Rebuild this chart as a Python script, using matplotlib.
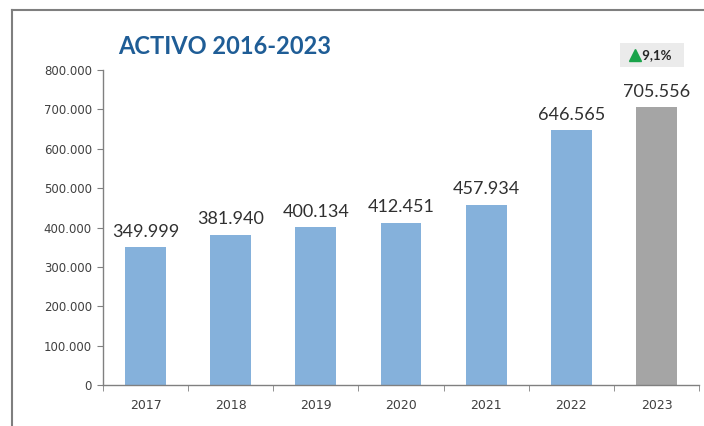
import matplotlib.pyplot as plt
from matplotlib.lines import Line2D

years = ['2017', '2018', '2019', '2020', '2021', '2022', '2023']
activo = [349999, 381940, 400134, 412451, 457934, 646565, 705556]
value_labels = ['349.999', '381.940', '400.134', '412.451', '457.934', '646.565', '705.556']
yticks = [0, 100000, 200000, 300000, 400000, 500000, 600000, 700000, 800000]
ytick_labels = ['0', '100.000', '200.000', '300.000', '400.000', '500.000', '600.000', '700.000', '800.000']
growth = '9,1%'

colors = ['#85b1db'] * 6 + ['#a5a5a5']

fig = plt.figure(figsize=(7.04, 4.26), dpi=100)
ax = fig.add_axes([0.1463, 0.0962, 0.8467, 0.7395])

x = list(range(len(years)))
ax.bar(x, activo, width=0.48, color=colors, zorder=2)
ax.set_xlim(-0.5, len(years) - 0.5)
ax.set_ylim(0, 800000)

for xi, v, lab in zip(x, activo, value_labels):
    ax.text(xi, v + 19000, lab, ha='center', va='bottom', fontsize=13,
            family='Lato', color='#303030')

ax.set_yticks(yticks)
ax.set_yticklabels(ytick_labels, fontsize=8.5, color='#404040')
ax.set_xticks(x)
ax.set_xticklabels(years, fontsize=9, color='#404040')
ax.tick_params(axis='x', length=0, pad=10)
ax.tick_params(axis='y', length=4, color='#808080', pad=4)
# minor ticks between the categories
ax.set_xticks([i + 0.5 for i in range(-1, len(years))], minor=True)
ax.tick_params(axis='x', which='minor', length=4, color='#808080')

for s in ['top', 'right']:
    ax.spines[s].set_visible(False)
for s in ['left', 'bottom']:
    ax.spines[s].set_color('#808080')
    ax.spines[s].set_linewidth(1)

fig.text(118 / 704, 1 - 46 / 426, 'ACTIVO 2016-2023', fontsize=17, fontweight='bold',
         family='Lato', color='#1f5d96', va='center', ha='left')

# growth badge above the last bar
ax.text(5.95, 838000, '     ' + growth + '  ', ha='center', va='center', fontsize=9.5,
        fontweight='bold', family='Lato', color='#262626', clip_on=False, zorder=4,
        bbox=dict(boxstyle='square,pad=0.45', fc='#ebebeb', ec='none'))
ax.plot([5.75], [838000], marker='^', color='#1aa34a', markersize=9, clip_on=False, zorder=6)

# outer frame (left and top)
fig.add_artist(Line2D([12 / 704, 12 / 704], [0, 1 - 10 / 426], color='#7f7f7f', lw=1.5))
fig.add_artist(Line2D([12 / 704, 1], [1 - 10 / 426, 1 - 10 / 426], color='#7f7f7f', lw=1.5))

fig.savefig('out.png', dpi=100)
